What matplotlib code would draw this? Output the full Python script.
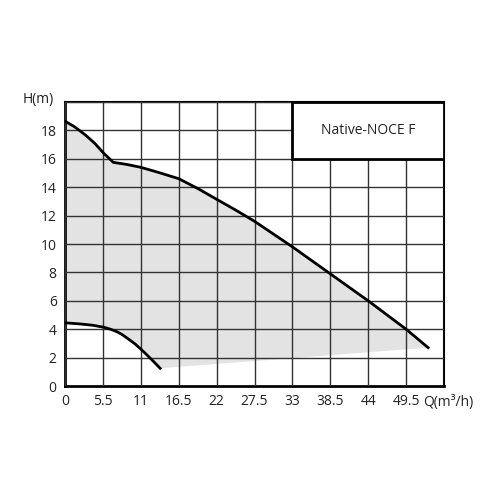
import matplotlib
matplotlib.use('Agg')
import matplotlib.pyplot as plt
import numpy as np

# curve values
q_max = [0, 1.4, 2.9, 4.3, 5.6, 7.0, 9.0, 11, 13.5, 16.5, 19.3, 22, 24.8, 27.5, 33, 38.5, 44, 49.5, 52.7]
h_max = [18.65, 18.25, 17.7, 17.1, 16.4, 15.75, 15.6, 15.4, 15.05, 14.6, 13.9, 13.15, 12.38, 11.6, 9.8, 7.9, 6.0, 4.0, 2.7]

q_min = [0, 2.2, 4.0, 5.6, 6.6, 7.5, 8.3, 9.0, 10.2, 11.4, 12.6, 13.8]
h_min = [4.45, 4.37, 4.28, 4.14, 4.0, 3.83, 3.62, 3.38, 2.95, 2.42, 1.85, 1.25]

x_ticks = [0, 5.5, 11, 16.5, 22, 27.5, 33, 38.5, 44, 49.5]
x_tick_labels = ['0', '5.5', '11', '16.5', '22', '27.5', '33', '38.5', '44', '49.5']
y_ticks = [0, 2, 4, 6, 8, 10, 12, 14, 16, 18]

model_name = 'Native-NOCE F'

plt.rcParams['font.family'] = ['Open Sans', 'DejaVu Sans']

fig = plt.figure(figsize=(5, 5), dpi=100)
ax = fig.add_axes([0.13, 0.228, 0.758, 0.568])

# gray operating area: upper curve, then back along lower curve and a straight edge
poly_x = q_max + q_min[::-1]
poly_y = h_max + h_min[::-1]
ax.fill(poly_x, poly_y, color='#e3e3e3', lw=0, zorder=1)

ax.plot(q_max, h_max, color='black', lw=2, zorder=4, solid_joinstyle='round')
ax.plot(q_min, h_min, color='black', lw=2, zorder=4, solid_joinstyle='round')

ax.set_xlim(0, 55)
ax.set_ylim(0, 20)
ax.set_xticks(x_ticks + [55])
ax.set_xticklabels(x_tick_labels + [''])
ax.set_yticks(y_ticks + [20])
ax.set_yticklabels([str(v) for v in y_ticks] + [''])
ax.tick_params(length=0, labelsize=10, pad=6, colors='#222222')
ax.grid(True, color='#333333', lw=1, zorder=2)
ax.set_axisbelow(False)
for s in ['left', 'bottom']:
    ax.spines[s].set_linewidth(2)
for s in ['top', 'right']:
    ax.spines[s].set_linewidth(1.5)

# model name box
box = plt.Rectangle((33, 16), 22, 4, facecolor='white', edgecolor='black', lw=2, zorder=3)
ax.add_patch(box)
ax.text(44, 18, model_name, ha='center', va='center', fontsize=10, color='#222222', zorder=5)

ax.text(-1.6, 20.2, 'H(m)', ha='right', va='center', fontsize=10, color='#222222')
ax.text(55.6, -1.15, 'Q(m³/h)', ha='center', va='center', fontsize=10, color='#222222')

fig.savefig('out.png', dpi=100, facecolor='white')
